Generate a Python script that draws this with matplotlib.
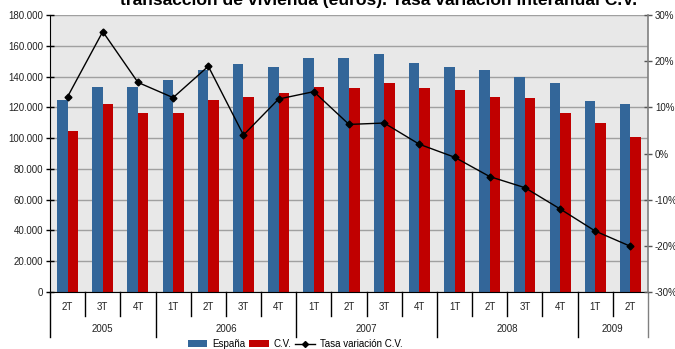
import matplotlib

matplotlib.use("Agg")

import matplotlib.pyplot as plt
from matplotlib.lines import Line2D
from matplotlib.patches import Patch

plt.rcParams["font.family"] = ["Liberation Sans", "DejaVu Sans"]

# quarters and year groups
quarters = ["2T", "3T", "4T", "1T", "2T", "3T", "4T", "1T", "2T", "3T", "4T",
            "1T", "2T", "3T", "4T", "1T", "2T"]
years = ["2005", "2006", "2007", "2008", "2009"]
quarters_per_year = [3, 4, 4, 4, 2]

# average price per transaction (euros)
espana = [125000, 133000, 133000, 137500, 144000, 148000, 146500, 152000, 152000,
          154500, 148500, 146500, 144000, 140000, 136000, 124000, 122000]
cv = [104500, 122000, 116000, 116500, 124500, 126500, 129500, 133000, 132500,
      135500, 132500, 131500, 126500, 126000, 116500, 109500, 101000]
# year-on-year change C.V. (%)
tasa_cv = [12.3, 26.4, 15.4, 12.1, 18.9, 4.0, 11.8, 13.4, 6.3, 6.6, 2.0, -0.8,
           -5.0, -7.4, -12.0, -16.8, -20.1]

left_ticks = [0, 20000, 40000, 60000, 80000, 100000, 120000, 140000, 160000, 180000]
right_ticks = [-30, -20, -10, 0, 10, 20, 30]

TITLE = "transacción de vivienda (euros). Tasa variación interanual C.V."

BLUE = "#336699"
RED = "#C00000"
W, H = 675, 349


def main() -> None:
    fig = plt.figure(figsize=(W / 100, H / 100), dpi=100)
    ax = fig.add_axes([50 / W, (H - 292) / H, 598 / W, 277 / H])
    ax.set_facecolor("#E8E8E8")

    n = len(quarters)
    xs = list(range(n))
    bw = 0.3
    ax.bar([x - bw / 2 for x in xs], espana, width=bw, color=BLUE, zorder=3)
    ax.bar([x + bw / 2 for x in xs], cv, width=bw, color=RED, zorder=3)

    ax.set_xlim(-0.5, n - 0.5)
    ax.set_ylim(0, 180000)
    ax.set_yticks(left_ticks)
    ax.set_yticklabels([f"{v:,.0f}".replace(",", ".") for v in left_ticks])
    ax.tick_params(axis="y", direction="inout", length=6, width=1, labelsize=7,
                   pad=2, colors="black", labelcolor="#222222")
    ax.set_xticks([])
    ax.grid(axis="y", color="#A0A0A0", linewidth=1, zorder=0)
    ax.set_axisbelow(True)
    for side in ("top", "right"):
        ax.spines[side].set_visible(False)
    ax.spines["left"].set_color("black")
    ax.spines["bottom"].set_color("black")
    ax.spines["bottom"].set_zorder(4)

    ax2 = ax.twinx()
    ax2.plot(xs, tasa_cv, color="black", linewidth=1, marker="D", markersize=3.5,
             zorder=5)
    ax2.set_ylim(-30, 30)
    ax2.set_yticks(right_ticks)
    ax2.set_yticklabels([f"{v}%" for v in right_ticks])
    ax2.tick_params(axis="y", direction="inout", length=6, width=1, labelsize=7,
                    pad=2, colors="#555555", labelcolor="#222222")
    for side in ("top", "left", "bottom"):
        ax2.spines[side].set_visible(False)
    ax2.spines["right"].set_color("#808080")
    ax2.spines["right"].set_linewidth(1.2)

    # category axis: quarter labels, year labels and separators
    tr = ax.get_xaxis_transform()
    px = 1 / 277
    for i, q in enumerate(quarters):
        ax.text(i, -15 * px, q, transform=tr, ha="center", va="center",
                fontsize=7, color="#222222")
    boundaries = [-0.5]
    start = 0
    for year, count in zip(years, quarters_per_year):
        mid = start + (count - 1) / 2
        ax.text(mid, -37 * px, year, transform=tr, ha="center", va="center",
                fontsize=7, color="#222222")
        start += count
        boundaries.append(start - 0.5)
    for i in range(n + 1):
        b = i - 0.5
        low = -45 * px if b in boundaries else -24 * px
        color = "#808080" if i == n else "black"
        ax.plot([b, b], [0, low], transform=tr, color=color, linewidth=1,
                clip_on=False)

    fig.text(379 / W, 1 - 4.5 / H, TITLE, ha="center", va="baseline",
             fontsize=12.6, fontweight="bold")

    handles = [
        Patch(facecolor=BLUE, label="España"),
        Patch(facecolor=RED, label="C.V."),
        Line2D([], [], color="black", linewidth=1, marker="D", markersize=3,
               label="Tasa variación C.V."),
    ]
    fig.legend(handles=handles, loc="center", bbox_to_anchor=(295 / W, 1 - 344 / H),
               ncol=3, frameon=False, fontsize=7, handlelength=2.0,
               handleheight=0.6, handletextpad=0.5, columnspacing=0.4,
               borderpad=0)

    fig.savefig("out.png", dpi=100)
    plt.close(fig)


if __name__ == "__main__":
    main()
